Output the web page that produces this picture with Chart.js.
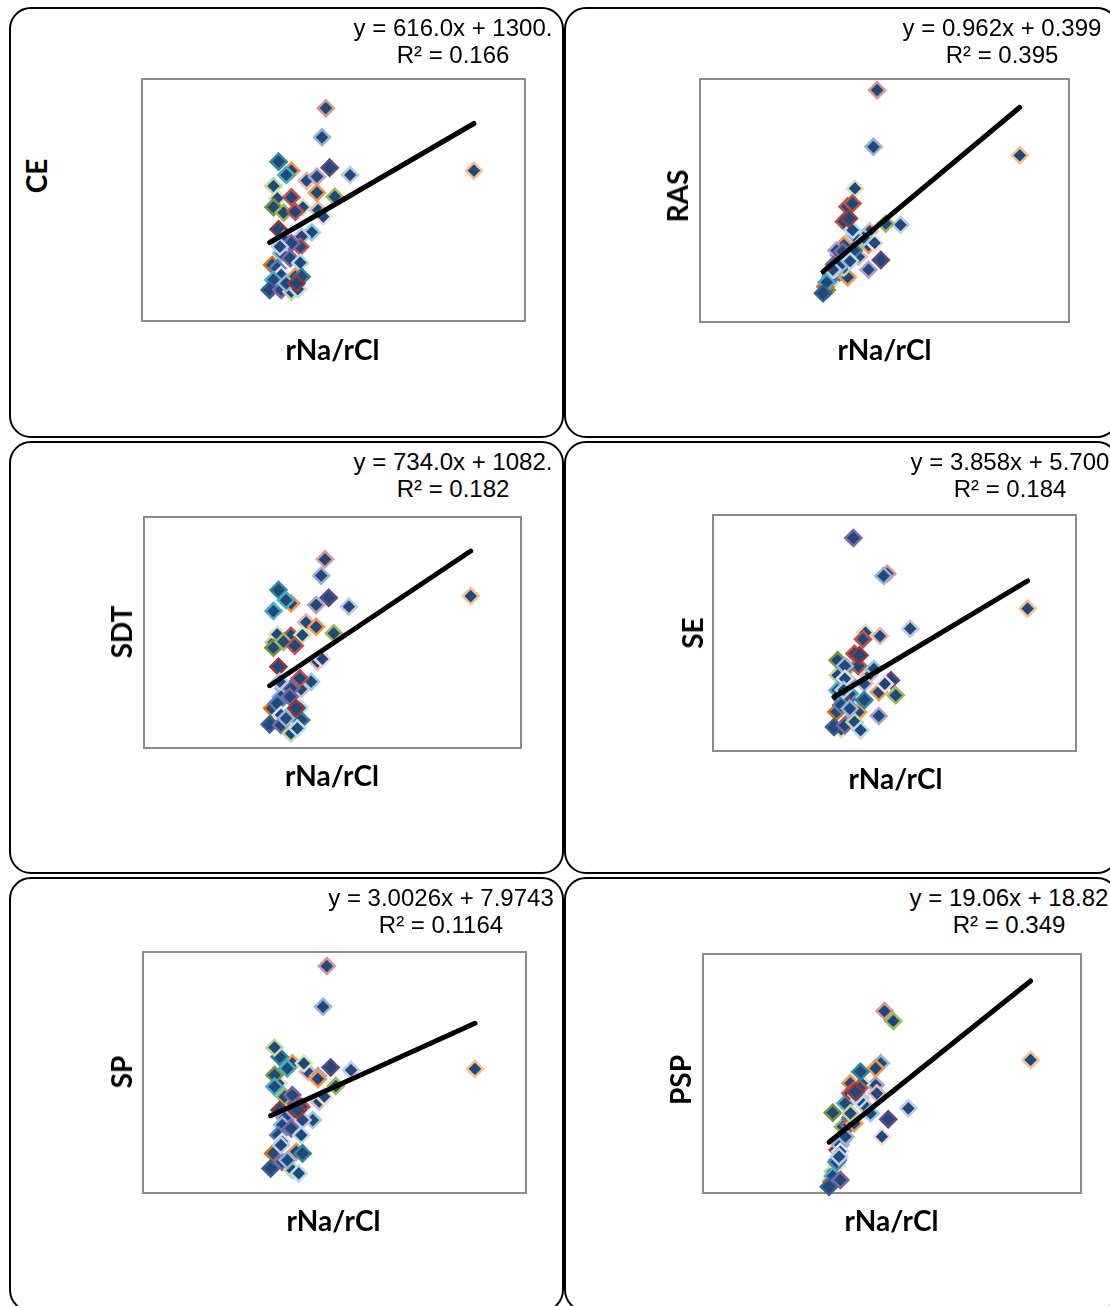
<!DOCTYPE html>
<html>
<head>
<meta charset="utf-8">
<script src="https://cdn.jsdelivr.net/npm/chart.js@4.4.0/dist/chart.umd.min.js"></script>
<style>
  html, body { margin: 0; padding: 0; background: #fff; }
  #page { position: relative; width: 1110px; height: 1306px; overflow: hidden; background: #fff; }
  .panel { position: absolute; border: 2px solid #000; border-radius: 22px; box-sizing: border-box; }
  canvas { position: absolute; }
  .eq { position: absolute; font-family: "Liberation Sans", Arial, sans-serif; font-size: 24px;
        line-height: 27.3px; text-align: center; white-space: pre; transform: translateX(-50%); color: #000; }
  .xt, .yt { position: absolute; font-family: Lato, "Noto Sans", sans-serif; font-weight: 700;
             font-size: 28px; line-height: 1; white-space: nowrap; color: #000; }
  .xt { transform: translate(-50%, -50%); }
  .yt { transform: translate(-50%, -50%) rotate(-90deg); }
</style>
</head>
<body>
<div id="page"></div>
<script>
// rNa/rCl ratio of each water sample (shared by every panel)
const rNaCl = [1.44, 1.41, 1.07, 1.17, 1.13, 1.47, 1.63, 1.29, 1.37, 1.37, 1.51, 1.03, 1.06, 1.17, 1.03,
               1.11, 1.26, 1.20, 1.38, 1.42, 2.60, 1.07, 1.33, 1.11, 1.25, 1.24, 1.17, 1.09, 1.16, 1.24,
               1.02, 1.06, 1.09, 1.20, 1.25, 1.03, 1.00, 1.09, 1.17, 1.22, 1.13, 1.21, 1.08];

// Parameters plotted against rNa/rCl
const CE  = [3028, 2787, 2585, 2511, 2475, 2536, 2475, 2428, 2461, 2329, 2295, 2384, 2282, 2290, 2208,
             2163, 2208, 2171, 2185, 2130, 2511, 2025, 2001, 1943, 1964, 1881, 1910, 1827, 1785, 1749,
             1730, 1702, 1647, 1633, 1633, 1606, 1523, 1523, 1509, 1529, 1578, 1578, 1881];
const RAS = [3.06, 2.53, 1.28, 1.61, 1.52, 1.47, 1.80, 1.50, 1.38, 1.61, 1.81, 1.24, 1.26, 1.83, 1.19,
             1.36, 2.14, 1.97, 1.74, 1.63, 2.45, 1.33, 1.68, 1.56, 1.70, 2.00, 1.45, 1.36, 1.55, 1.75,
             1.22, 1.30, 1.38, 1.31, 1.56, 1.26, 1.16, 1.43, 1.40, 1.46, 1.41, 1.86, 1.38];
const SDT = [2918, 2775, 2650, 2534, 2563, 2583, 2505, 2369, 2520, 2330, 2273, 2194, 2264, 2252, 2147,
             2200, 2258, 2165, 2025, 2049, 2598, 1982, 1851, 1793, 1787, 1881, 1793, 1720, 1720, 1624,
             1619, 1663, 1561, 1546, 1517, 2467, 1479, 1473, 1401, 1445, 1532, 1619, 1851];
const SE  = [16.12, 16.00, 10.04, 8.58, 9.73, 10.45, 13.19, 10.71, 8.55, 9.82, 9.65, 10.71, 7.84, 11.86, 11.51,
             11.10, 12.98, 11.21, 12.80, 10.25, 14.26, 9.40, 11.06, 10.46, 10.27, 12.63, 9.03, 11.21, 18.02, 9.29,
             8.76, 9.13, 10.53, 8.76, 9.40, 9.92, 7.96, 8.05, 8.23, 7.79, 8.94, 11.78, 9.93];
const SP  = [18.76, 16.64, 14.04, 13.70, 13.44, 13.49, 13.35, 13.26, 13.04, 12.89, 12.52, 14.53, 12.66, 11.10, 13.09,
             11.97, 13.70, 11.59, 11.71, 11.97, 13.41, 11.27, 10.75, 10.86, 10.75, 11.45, 12.05, 10.49, 10.32, 9.97,
             9.02, 9.97, 9.63, 9.11, 9.02, 12.49, 8.24, 8.59, 8.15, 7.98, 8.67, 11.27, 9.45];
const PSP = [62.70, 52.81, 34.53, 49.03, 45.25, 42.22, 44.30, 44.61, 48.71, 51.87, 60.81, 32.32, 33.58, 47.14, 43.47,
             40.83, 49.03, 47.76, 47.14, 38.93, 53.44, 36.42, 43.36, 38.31, 46.25, 48.14, 42.47, 37.37, 41.15, 45.87,
             30.43, 34.15, 36.10, 41.47, 51.22, 31.50, 29.48, 30.75, 43.36, 46.82, 38.93, 47.39, 35.15];

// Panel names and their linear trendlines (y = slope·x + intercept)
const names      = ['CE', 'RAS', 'SDT', 'SE', 'SP', 'PSP'];
const slopes     = [616.0, 0.962, 734.0, 3.858, 3.0026, 19.06];
const intercepts = [1300, 0.399, 1082, 5.700, 7.9743, 18.82];
const eqLabels   = ['y = 616.0x + 1300.', 'y = 0.962x + 0.399', 'y = 734.0x + 1082.',
                    'y = 3.858x + 5.700', 'y = 3.0026x + 7.9743', 'y = 19.06x + 18.82'];
const r2Labels   = ['R² = 0.166', 'R² = 0.395', 'R² = 0.182', 'R² = 0.184', 'R² = 0.1164', 'R² = 0.349'];
const xTitle     = 'rNa/rCl';

const series = [CE, RAS, SDT, SE, SP, PSP];

// Marker outline colours, one per sample
const markerEdges = ['#d99694','#95b3d7','#31859c','#f79646','#4bacc6','#604a7b','#b9cde5','#e6b9b8','#b3a2c7',
  '#f79646','#9bbb59','#c3d69b','#d7e4bd','#c0504d','#77933c','#9bbb59','#d7e4bd','#c0504d','#e6b9b8',
  '#f2dcdb','#fac090','#953735','#93cddd','#b3a2c7','#ccc1da','#c0504d','#8064a2','#95b3d7','#8064a2',
  '#b7dee8','#e46c0a','#4f81bd','#e6e0ec','#f79646','#31859c','#4bacc6','#376092','#8064a2','#c3d69b',
  '#b7dee8','#95b3d7','#953735','#b9cde5'];

// Layout of each panel: frame box, plot rectangle, axis ranges and text anchors
const layout = [
  { box: [9, 7, 555, 431],    plot: [142, 79, 525, 321],   y: [1266, 3270],   eq: [453, 14.2],
    xt: [332.5, 349], yt: [35.5, 176] },
  { box: [564, 7, 555, 431],  plot: [700, 79, 1069, 322],  y: [0.890, 3.165], eq: [1002, 14.2],
    xt: [884.5, 349], yt: [677, 196] },
  { box: [9, 441, 555, 433],  plot: [144, 517, 521, 748],  y: [1273, 3287],   eq: [453, 448.2],
    xt: [332, 775], yt: [121, 632] },
  { box: [564, 441, 555, 433], plot: [713, 515, 1076, 751], y: [6.685, 19.24], eq: [1010, 448.2],
    xt: [895.5, 778], yt: [692, 633] },
  { box: [9, 877, 555, 435],  plot: [143, 952, 526, 1193], y: [6.96, 19.49],   eq: [441, 884.2],
    xt: [333.5, 1220], yt: [121, 1072] },
  { box: [564, 877, 555, 435], plot: [703, 954, 1081, 1193], y: [28.29, 73.48], eq: [1009, 884.2],
    xt: [891.5, 1220], yt: [680, 1080] }
];

const plotFrame = {
  id: 'plotFrame',
  beforeDatasetsDraw(chart) {
    const { ctx, chartArea: a } = chart;
    ctx.save();
    ctx.strokeStyle = '#8c8c8c';
    ctx.lineWidth = 2;
    ctx.strokeRect(a.left, a.top, a.right - a.left, a.bottom - a.top);
    ctx.restore();
  }
};

const page = document.getElementById('page');
const M = 14;
const xMin = Math.min(...rNaCl), xMax = Math.max(...rNaCl);

function addText(cls, text, x, y) {
  const d = document.createElement('div');
  d.className = cls;
  d.textContent = text;
  d.style.left = x + 'px';
  d.style.top = y + 'px';
  page.appendChild(d);
}

layout.forEach((L, i) => {
  const box = document.createElement('div');
  box.className = 'panel';
  box.style.left = L.box[0] + 'px'; box.style.top = L.box[1] + 'px';
  box.style.width = L.box[2] + 'px'; box.style.height = L.box[3] + 'px';
  page.appendChild(box);

  const [l, t, r, b] = L.plot;
  const cv = document.createElement('canvas');
  cv.width = r - l + 2 * M; cv.height = b - t + 2 * M;
  cv.style.left = (l - M) + 'px'; cv.style.top = (t - M) + 'px';
  cv.style.width = cv.width + 'px'; cv.style.height = cv.height + 'px';
  page.appendChild(cv);

  const ys = series[i];
  const pts = rNaCl.map((x, k) => ({ x: x, y: ys[k] }));
  const trend = [xMin, xMax].map(x => ({ x: x, y: slopes[i] * x + intercepts[i] }));

  new Chart(cv, {
    type: 'scatter',
    data: {
      datasets: [
        { type: 'line', data: trend, showLine: true, borderColor: '#000', borderWidth: 5,
          borderCapStyle: 'round', pointRadius: 0, fill: false, order: 0, clip: false },
        { data: pts, pointStyle: 'rectRot', pointRadius: 8, pointHoverRadius: 8,
          pointBorderWidth: 2.5, pointBackgroundColor: '#1f497d', pointBorderColor: markerEdges,
          order: 1, clip: false }
      ]
    },
    options: {
      responsive: false, animation: false, events: [], devicePixelRatio: 1,
      layout: { padding: M },
      plugins: { legend: { display: false }, tooltip: { enabled: false } },
      scales: {
        x: { type: 'linear', min: 0, max: 3, display: false },
        y: { type: 'linear', min: L.y[0], max: L.y[1], display: false }
      }
    },
    plugins: [plotFrame]
  });

  addText('eq', eqLabels[i] + '\n' + r2Labels[i], L.eq[0], L.eq[1]);
  addText('xt', xTitle, L.xt[0], L.xt[1]);
  addText('yt', names[i], L.yt[0], L.yt[1]);
});
</script>
</body>
</html>
